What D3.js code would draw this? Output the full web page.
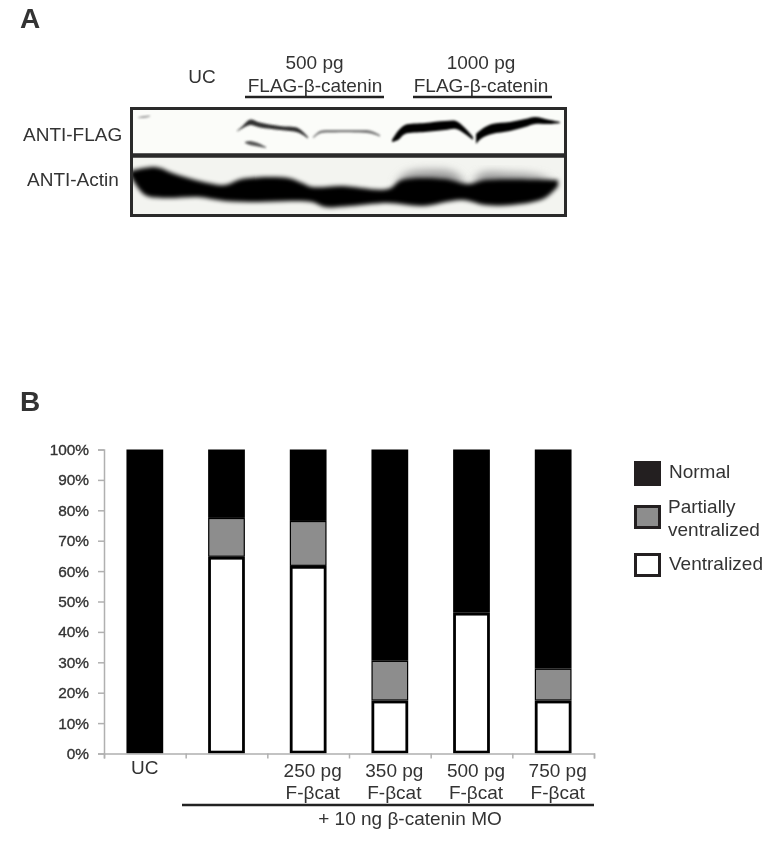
<!DOCTYPE html>
<html>
<head>
<meta charset="utf-8">
<script src="https://cdn.jsdelivr.net/npm/d3@7"></script>
<style>
  html, body { margin: 0; padding: 0; background: #fff; }
  svg { display: block; filter: blur(0.35px); }
  text { font-family: "Liberation Sans", Arial, sans-serif; fill: #333; }
</style>
</head>
<body>
<div id="graph-container"></div>
<script>
// panel B values (percent of embryos)
const categories = ["UC", "MO", "250 pg", "350 pg", "500 pg", "750 pg"];
const ventralized = [0, 64.7, 61.7, 17.4, 46.3, 17.4];
const partially = [0, 12.8, 14.8, 13.1, 0, 10.5];
const normal = [100, 22.5, 23.5, 69.5, 53.7, 72.1];
const yTicks = [0, 10, 20, 30, 40, 50, 60, 70, 80, 90, 100];
const legendNames = ["Normal", "Partially ventralized", "Ventralized"];

// panel A blot: [position along gel, band top, band bottom]
const flagSmudge = [[8, 10.5, 11], [14, 9, 11], [20, 8.5, 9.5]];
const flagLower = [[115, 35, 36], [120, 34, 38], [128, 36, 39.5], [136, 40, 41]];
const flagBand1 = [[107, 24, 24.5], [113, 18.5, 21], [120, 12.5, 18], [130, 15.5, 20.5], [150, 19, 23], [168, 21, 25.5], [178, 30, 31.5]];
const flagBand2 = [[183, 30, 31.5], [190, 24, 26.5], [205, 23, 25.5], [225, 23, 25.5], [240, 23.5, 26.5], [250, 28, 29.5]];
const flagBand3 = [[262, 33, 35], [268, 24, 33], [275, 18, 27], [295, 16, 25], [315, 14, 23], [326, 14, 22], [335, 21, 27], [343, 30, 33]];
const flagBand4 = [[346, 27, 37], [352, 22, 31], [362, 17, 27], [380, 15, 24], [395, 12, 20], [405, 10, 17], [420, 13, 17], [430, 15, 16]];
const actinTop = [[0, 64], [25, 60], [45, 67], [78, 76], [95, 78], [112, 72], [158, 71], [172, 76], [182, 80], [212, 79], [258, 82], [272, 73], [315, 72], [338, 77], [355, 73], [428, 73]];
const actinBottom = [[0, 68], [15, 88], [35, 91], [68, 90], [95, 94], [128, 95], [162, 94], [182, 95], [195, 100], [220, 99], [258, 96], [292, 99], [332, 93], [355, 98], [382, 98], [415, 91], [428, 79]];
const actinHalo1 = [[265, 78], [275, 67], [300, 63], [325, 66], [337, 80]];
const actinHalo2 = [[342, 78], [350, 67], [380, 66], [410, 69], [425, 76]];

const svgWidth = 779;
const svgHeight = 847;
const fontSize = 19;

const svg = d3
  .select("#graph-container")
  .append("svg")
  .attr("width", svgWidth)
  .attr("height", svgHeight);

const defs = svg.append("defs");
[["blur1", 0.9], ["blur2", 2.1], ["blur3", 4]].forEach(([id, dev]) => {
  defs
    .append("filter")
    .attr("id", id)
    .attr("x", "-20%")
    .attr("y", "-50%")
    .attr("width", "140%")
    .attr("height", "200%")
    .append("feGaussianBlur")
    .attr("stdDeviation", dev);
});
defs
  .append("clipPath")
  .attr("id", "gel-clip")
  .append("rect")
  .attr("x", 130)
  .attr("y", 107)
  .attr("width", 437)
  .attr("height", 110);

const addText = (str, x, y, size, anchor, weight) => {
  return svg
    .append("text")
    .text(str)
    .attr("x", x)
    .attr("y", y)
    .attr("font-size", size)
    .attr("text-anchor", anchor || "start")
    .attr("font-weight", weight || "normal");
};

// ---- panel letters
addText("A", 20, 28, 28, "start", "bold");
addText("B", 20, 411, 28, "start", "bold");

// ---- panel A
addText("UC", 202, 83, fontSize, "middle");
addText("500 pg", 314.5, 69, fontSize, "middle");
addText("FLAG-β-catenin", 315, 92, fontSize, "middle");
addText("1000 pg", 481, 69, fontSize, "middle");
addText("FLAG-β-catenin", 481, 92, fontSize, "middle");
addText("ANTI-FLAG", 23, 141, fontSize);
addText("ANTI-Actin", 27, 186, fontSize);

[[245, 384], [413, 552]].forEach(([x1, x2]) => {
  svg
    .append("line")
    .attr("x1", x1)
    .attr("x2", x2)
    .attr("y1", 97)
    .attr("y2", 97)
    .attr("stroke", "#222")
    .attr("stroke-width", 2.5);
});

const gelX = d3.scaleLinear().domain([0, 437]).range([130, 567]);
const gelY = d3.scaleLinear().domain([0, 110]).range([107, 217]);

const gel = svg.append("g").attr("clip-path", "url(#gel-clip)");

gel
  .append("rect")
  .attr("x", gelX(0))
  .attr("y", gelY(0))
  .attr("width", gelX(437) - gelX(0))
  .attr("height", gelY(110) - gelY(0))
  .attr("fill", "#fbfcf9");

gel
  .append("rect")
  .attr("x", gelX(0))
  .attr("y", gelY(50))
  .attr("width", gelX(437) - gelX(0))
  .attr("height", gelY(110) - gelY(50))
  .attr("fill", "#f3f4f0");

const bandArea = d3
  .area()
  .x((d) => gelX(d[0]))
  .y0((d) => gelY(d[1]))
  .y1((d) => gelY(d[2]))
  .curve(d3.curveCatmullRom);

const flagBands = [
  { data: flagSmudge, fill: "#999" },
  { data: flagLower, fill: "#555" },
  { data: flagBand1, fill: "#333" },
  { data: flagBand2, fill: "#777" },
  { data: flagBand3, fill: "#000" },
  { data: flagBand4, fill: "#000" },
];

flagBands.forEach((band) => {
  gel
    .append("path")
    .datum(band.data)
    .attr("d", bandArea)
    .attr("fill", band.fill)
    .attr("filter", "url(#blur1)");
});

// actin band is one long smear, outlined from top and bottom edges
const edgeLine = d3
  .line()
  .x((d) => gelX(d[0]))
  .y((d) => gelY(d[1]))
  .curve(d3.curveCatmullRom);

[actinHalo1, actinHalo2].forEach((halo) => {
  gel
    .append("path")
    .datum(halo)
    .attr("d", (d) => edgeLine(d) + "Z")
    .attr("fill", "#999")
    .attr("filter", "url(#blur3)");
});

gel
  .append("path")
  .attr(
    "d",
    edgeLine(actinTop) + "L" + edgeLine(actinBottom.slice().reverse()).slice(1) + "Z"
  )
  .attr("fill", "#000")
  .attr("filter", "url(#blur2)");

// gel frame and divider
svg
  .append("rect")
  .attr("x", gelX(1.5))
  .attr("y", gelY(1.5))
  .attr("width", gelX(435.5) - gelX(1.5))
  .attr("height", gelY(108.5) - gelY(1.5))
  .attr("fill", "none")
  .attr("stroke", "#2a2a2a")
  .attr("stroke-width", 3);

svg
  .append("line")
  .attr("x1", gelX(0))
  .attr("x2", gelX(437))
  .attr("y1", gelY(48.5))
  .attr("y2", gelY(48.5))
  .attr("stroke", "#2a2a2a")
  .attr("stroke-width", 4.5);

// ---- panel B
const xScale = d3
  .scaleBand()
  .domain(categories)
  .range([104, 594])
  .paddingInner(0.55)
  .paddingOuter(0.275);

const yScale = d3.scaleLinear().domain([0, 100]).range([753.5, 449.5]);

const rows = categories.map((c, i) => ({
  category: c,
  ventralized: ventralized[i],
  partially: partially[i],
  normal: normal[i],
}));

const stack = d3.stack().keys(["ventralized", "partially", "normal"]);
const layers = stack(rows);

const layerFill = { ventralized: "#fff", partially: "#8d8d8d", normal: "#000" };
const layerStroke = { ventralized: 2.8, partially: 1.2, normal: 0 };

layers
  .slice()
  .reverse()
  .forEach((layer) => {
    const sw = layerStroke[layer.key];
    svg
      .selectAll("rect.layer-" + layer.key)
      .data(layer.filter((d) => d[1] - d[0] > 0))
      .enter()
      .append("rect")
      .attr("class", "layer-" + layer.key)
      .attr("x", (d) => xScale(d.data.category) + sw / 2)
      .attr("width", xScale.bandwidth() - sw)
      .attr("y", (d) => yScale(d[1]) + sw / 2)
      .attr("height", (d) => yScale(d[0]) - yScale(d[1]) - sw)
      .attr("fill", layerFill[layer.key])
      .attr("stroke", "#000")
      .attr("stroke-width", sw);
  });

const yAxis = d3
  .axisLeft(yScale)
  .tickValues(yTicks)
  .tickSize(6)
  .tickPadding(9)
  .tickFormat((d) => d + "%");

const yAxisG = svg.append("g").attr("transform", "translate(104,0)").call(yAxis);

// x axis ticks sit on the band edges, not the centres
const xEdges = d3.scaleLinear().domain([0, 6]).range([104, 594]);
const xAxis = d3
  .axisBottom(xEdges)
  .ticks(6)
  .tickSize(5)
  .tickFormat("");

const xAxisG = svg.append("g").attr("transform", "translate(0,753.5)").call(xAxis);

[yAxisG, xAxisG].forEach((g) => {
  g.selectAll("path.domain, line").attr("stroke", "#b0b0b0").attr("stroke-width", 1.5);
});
yAxisG
  .selectAll("text")
  .attr("font-size", 15.4)
  .attr("font-family", "Liberation Sans, Arial, sans-serif")
  .attr("stroke", "#333")
  .attr("stroke-width", 0.35);

const bandCenter = (c) => xScale(c) + xScale.bandwidth() / 2;

addText("UC", bandCenter("UC"), 774, fontSize, "middle");
categories.slice(2).forEach((c) => {
  addText(c, bandCenter(c) + 4.5, 777, fontSize, "middle");
  addText("F-βcat", bandCenter(c) + 4.5, 799, fontSize, "middle");
});

svg
  .append("line")
  .attr("x1", 182)
  .attr("x2", 594)
  .attr("y1", 805)
  .attr("y2", 805)
  .attr("stroke", "#222")
  .attr("stroke-width", 2.5);

addText("+ 10 ng β-catenin MO", 410, 825, fontSize, "middle");

// ---- legend
const legendSwatches = [
  { fill: "#231f20", stroke: "#231f20", y: 461, h: 25 },
  { fill: "#8d8d8d", stroke: "#231f20", y: 505, h: 24 },
  { fill: "#fff", stroke: "#231f20", y: 553, h: 24 },
];

legendSwatches.forEach((s) => {
  svg
    .append("rect")
    .attr("x", 635.5)
    .attr("y", s.y + 1.5)
    .attr("width", 24)
    .attr("height", s.h - 3)
    .attr("fill", s.fill)
    .attr("stroke", s.stroke)
    .attr("stroke-width", 3);
});

addText(legendNames[0], 669, 478, fontSize);
addText(legendNames[1].split(" ")[0], 668, 513, fontSize);
addText(legendNames[1].split(" ")[1], 668, 536, fontSize);
addText(legendNames[2], 669, 570, fontSize);
</script>
</body>
</html>
